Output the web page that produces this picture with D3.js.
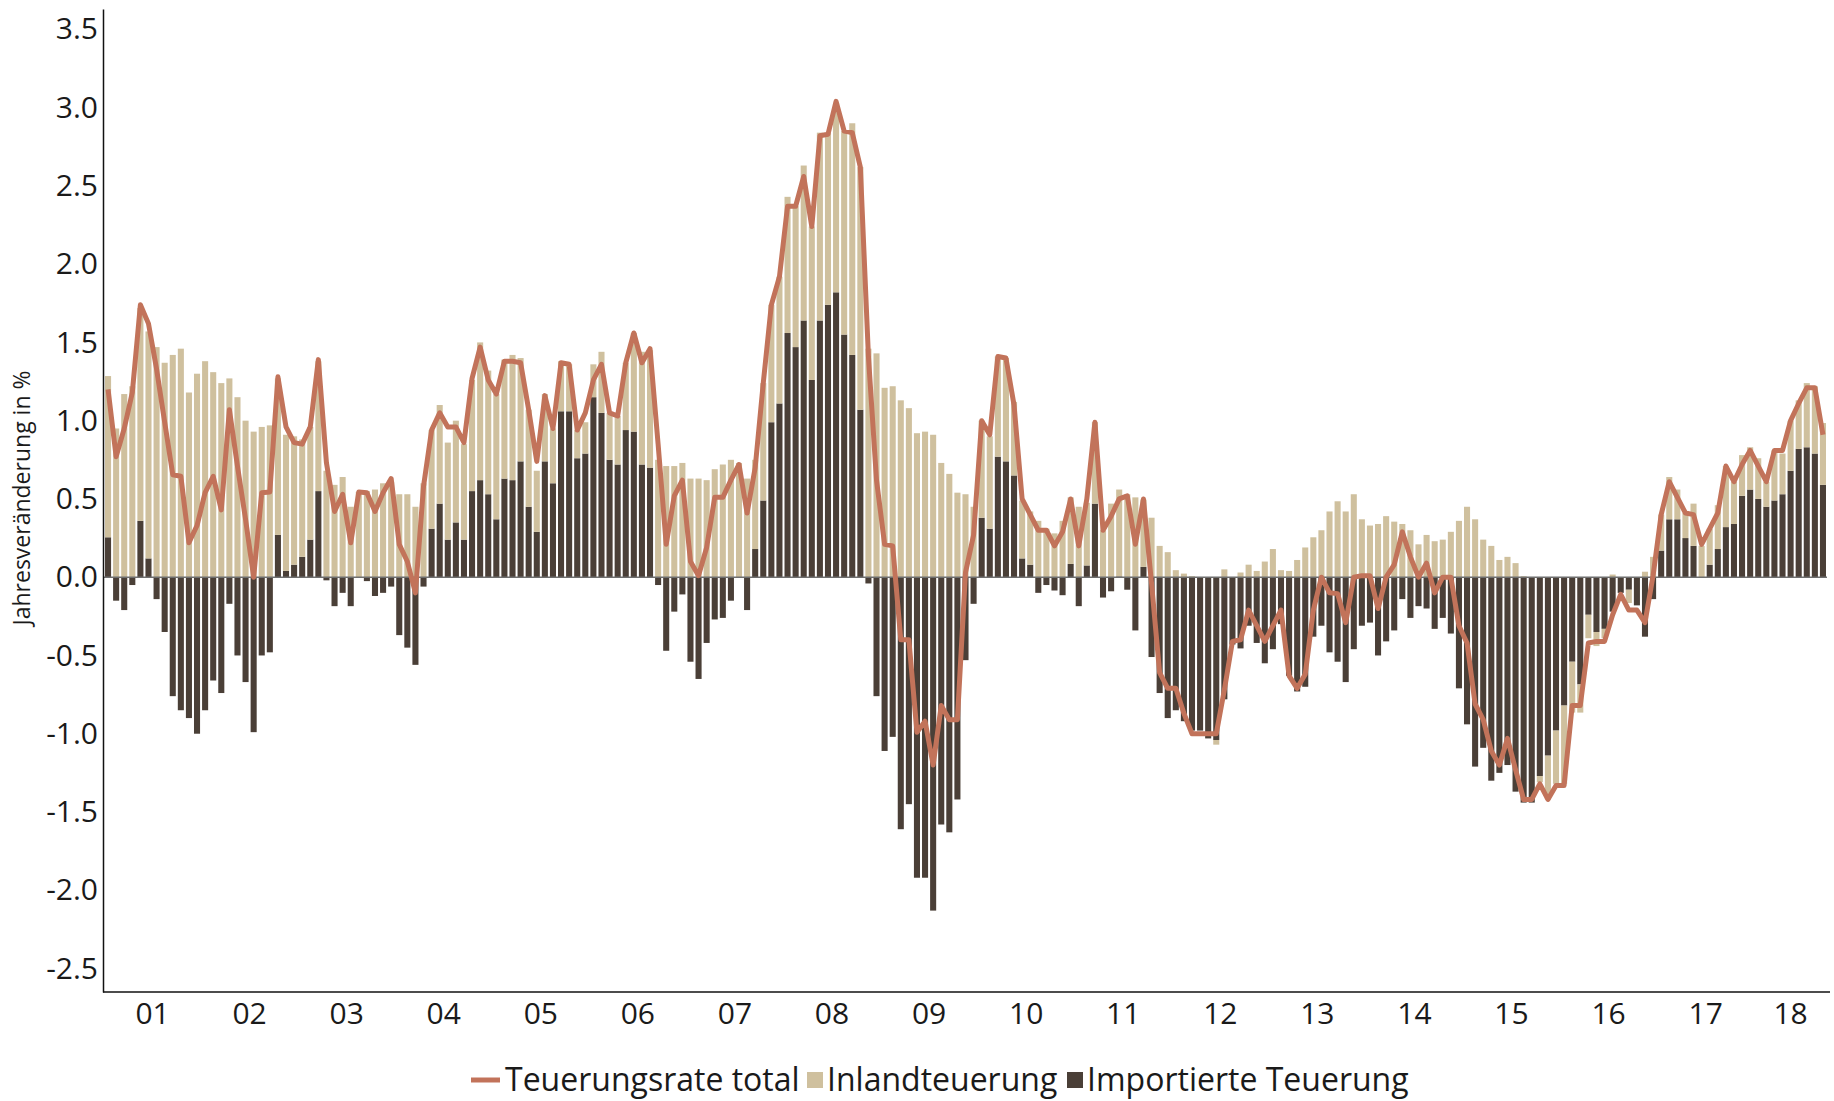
<!DOCTYPE html>
<html><head><meta charset="utf-8">
<script src="https://cdn.jsdelivr.net/npm/d3@7"></script>
<style>
body{margin:0;background:#fff}
svg{display:block}
text{font-family:"Open Sans","Noto Sans",sans-serif;fill:#1a1a1a}
</style>
</head><body>
<svg id="chart" width="1834" height="1101"></svg>
<script>
// ---- data (monthly, Jan 2001 – Sep 2018) ----
const yearLabels = ["01","02","03","04","05","06","07","08","09","10","11","12","13","14","15","16","17","18"];
const seriesNames = ["Teuerungsrate total","Inlandteuerung","Importierte Teuerung"];
const yTicks = [-2.5,-2.0,-1.5,-1.0,-0.5,0.0,0.5,1.0,1.5,2.0,2.5,3.0,3.5];

const total = [
 1.20,0.77,0.95,1.18,1.74,1.62,1.33,0.99,0.655,0.645,0.22,0.33,
 0.54,0.645,0.43,1.07,0.71,0.37,0.00,0.54,0.545,1.28,0.96,0.86,
 0.85,0.96,1.39,0.73,0.42,0.53,0.22,0.545,0.54,0.42,0.54,0.63,
 0.21,0.10,-0.10,0.58,0.94,1.05,0.96,0.96,0.86,1.27,1.47,1.26,
 1.17,1.38,1.38,1.37,1.07,0.74,1.16,0.95,1.37,1.36,0.94,1.05,
 1.26,1.36,1.05,1.03,1.37,1.56,1.37,1.46,0.85,0.21,0.52,0.62,
 0.10,0.01,0.19,0.51,0.51,0.62,0.72,0.41,0.70,1.24,1.74,1.92,
 2.37,2.37,2.56,2.24,2.82,2.83,3.04,2.85,2.84,2.62,1.41,0.62,
 0.21,0.20,-0.40,-0.40,-0.99,-0.92,-1.20,-0.82,-0.91,-0.91,0.03,0.27,
 1.00,0.91,1.41,1.40,1.10,0.50,0.40,0.30,0.30,0.20,0.29,0.50,
 0.20,0.50,0.99,0.30,0.39,0.50,0.52,0.21,0.50,-0.04,-0.61,-0.71,
 -0.71,-0.87,-1.00,-1.00,-1.00,-1.00,-0.72,-0.41,-0.40,-0.21,-0.31,-0.41,
 -0.31,-0.21,-0.63,-0.71,-0.62,-0.21,0.00,-0.10,-0.105,-0.29,0.00,0.01,
 0.01,-0.20,0.00,0.08,0.29,0.13,0.00,0.09,-0.10,0.00,0.00,-0.31,
 -0.42,-0.81,-0.91,-1.11,-1.20,-1.03,-1.23,-1.42,-1.42,-1.32,-1.42,-1.33,
 -1.33,-0.82,-0.82,-0.42,-0.41,-0.41,-0.24,-0.11,-0.21,-0.21,-0.29,0.01,
 0.40,0.61,0.51,0.41,0.40,0.21,0.31,0.41,0.71,0.61,0.72,0.81,
 0.71,0.61,0.81,0.81,1.00,1.11,1.21,1.21,0.91
];

const inland = [
 1.03,0.95,1.17,1.22,1.36,1.45,1.47,1.37,1.42,1.46,1.18,1.30,
 1.38,1.31,1.24,1.27,1.15,1.00,0.93,0.96,0.97,1.00,0.87,0.82,
 0.75,0.72,0.83,0.68,0.59,0.64,0.45,0.545,0.55,0.56,0.60,0.61,
 0.53,0.53,0.45,0.60,0.63,0.63,0.62,0.65,0.61,0.71,0.88,0.79,
 0.80,0.76,0.80,0.66,0.62,0.39,0.43,0.35,0.32,0.30,0.18,0.20,
 0.21,0.39,0.30,0.31,0.43,0.63,0.72,0.75,0.75,0.71,0.71,0.73,
 0.63,0.63,0.62,0.69,0.72,0.75,0.73,0.63,0.57,0.75,0.75,0.81,
 0.87,0.90,0.99,0.98,1.20,1.10,1.21,1.30,1.48,1.55,1.46,1.43,
 1.21,1.22,1.13,1.08,0.92,0.93,0.91,0.73,0.66,0.54,0.53,0.45,
 0.62,0.59,0.64,0.66,0.47,0.37,0.34,0.36,0.31,0.28,0.36,0.425,
 0.45,0.40,0.52,0.30,0.47,0.555,0.53,0.51,0.43,0.38,0.20,0.16,
 0.045,0.023,0.006,0.0,0.0,-0.03,0.05,0.0,0.03,0.08,0.04,0.10,
 0.18,0.045,0.04,0.11,0.19,0.255,0.30,0.42,0.485,0.42,0.53,0.37,
 0.33,0.34,0.39,0.355,0.34,0.30,0.21,0.27,0.23,0.24,0.29,0.36,
 0.45,0.37,0.24,0.20,0.11,0.13,0.09,0.006,0.0,-0.04,-0.28,-0.34,
 -0.50,-0.325,-0.18,-0.15,-0.09,-0.06,0.017,0.0,-0.085,0.0,0.035,0.13,
 0.23,0.27,0.19,0.16,0.27,0.20,0.23,0.28,0.39,0.27,0.26,0.27,
 0.26,0.16,0.32,0.26,0.32,0.31,0.41,0.43,0.395
];

const imported = [
 0.255,-0.15,-0.21,-0.05,0.36,0.12,-0.14,-0.35,-0.76,-0.85,-0.90,-1.00,
 -0.85,-0.66,-0.74,-0.17,-0.50,-0.67,-0.99,-0.50,-0.48,0.27,0.04,0.08,
 0.13,0.24,0.55,-0.02,-0.185,-0.10,-0.185,0.0,-0.025,-0.12,-0.10,-0.06,
 -0.37,-0.45,-0.56,-0.06,0.31,0.47,0.24,0.35,0.24,0.55,0.62,0.53,
 0.37,0.63,0.62,0.74,0.45,0.29,0.74,0.60,1.06,1.06,0.76,0.79,
 1.15,1.05,0.75,0.72,0.94,0.93,0.72,0.70,-0.05,-0.47,-0.22,-0.11,
 -0.54,-0.65,-0.42,-0.27,-0.26,-0.15,0.0,-0.21,0.18,0.49,0.99,1.11,
 1.56,1.47,1.64,1.26,1.64,1.74,1.82,1.55,1.42,1.07,-0.04,-0.76,
 -1.11,-1.02,-1.61,-1.45,-1.92,-1.92,-2.13,-1.58,-1.63,-1.42,-0.53,-0.17,
 0.38,0.31,0.77,0.74,0.65,0.12,0.08,-0.10,-0.05,-0.085,-0.115,0.085,
 -0.185,0.075,0.47,-0.13,-0.09,0.005,-0.08,-0.34,0.066,-0.51,-0.74,-0.90,
 -0.85,-0.92,-0.98,-0.98,-1.03,-1.04,-0.78,-0.43,-0.455,-0.31,-0.42,-0.55,
 -0.46,-0.30,-0.63,-0.73,-0.70,-0.38,-0.31,-0.48,-0.54,-0.67,-0.46,-0.31,
 -0.29,-0.50,-0.41,-0.34,-0.14,-0.26,-0.185,-0.20,-0.33,-0.26,-0.36,-0.71,
 -0.94,-1.21,-1.09,-1.30,-1.25,-1.20,-1.37,-1.44,-1.44,-1.27,-1.14,-0.98,
 -0.82,-0.54,-0.685,-0.24,-0.35,-0.33,-0.22,-0.10,-0.08,-0.18,-0.38,-0.14,
 0.17,0.37,0.37,0.25,0.20,0.0,0.08,0.18,0.32,0.34,0.52,0.56,
 0.50,0.45,0.49,0.53,0.68,0.82,0.83,0.79,0.59
];

// ---- layout ----
const colors = {total:"#c2735a", inland:"#cfc09e", imported:"#4a3f37"};
const plot = {left:104, right:1827, top:9, bottom:992};
const svg = d3.select("#chart");

const months = total.map((_, i) => `${2001 + Math.floor(i / 12)}-${String(i % 12 + 1).padStart(2, "0")}`);
const rows = months.map((m, i) => ({month:m, year:yearLabels[Math.floor(i / 12)], total:total[i], inland:inland[i], imported:imported[i]}));

const x = d3.scaleBand().domain(months).range([plot.left, plot.right]).paddingInner(0.25).paddingOuter(0.125);
const y = d3.scaleLinear().domain([-2.65, 3.63]).range([plot.bottom, plot.top]);

const stack = d3.stack().keys(["imported","inland"]).offset(d3.stackOffsetDiverging);
const stacked = stack(rows);

// bars
svg.append("g").selectAll("g").data(stacked).join("g")
  .attr("fill", d => colors[d.key])
  .selectAll("rect").data(d => d).join("rect")
  .attr("x", d => x(d.data.month))
  .attr("width", x.bandwidth())
  .attr("y", d => y(Math.max(d[0], d[1])))
  .attr("height", d => Math.abs(y(d[0]) - y(d[1])));

// zero line
svg.append("line")
  .attr("x1", plot.left).attr("x2", plot.right)
  .attr("y1", y(0)).attr("y2", y(0))
  .attr("stroke", "#6e6e6e").attr("stroke-width", 1.5);

// total line
const line = d3.line()
  .x(d => x(d.month) + x.bandwidth() / 2)
  .y(d => y(d.total));
svg.append("path").datum(rows)
  .attr("fill", "none")
  .attr("stroke", colors.total)
  .attr("stroke-width", 5)
  .attr("stroke-linejoin", "round")
  .attr("d", line);

// y axis
const yAxis = d3.axisLeft(y).tickValues(yTicks).tickSize(0).tickPadding(5)
  .tickFormat(d => d.toFixed(1));
const gy = svg.append("g").attr("transform", `translate(${plot.left - 1},0)`).call(yAxis);
gy.select(".domain").attr("stroke", "#111").attr("stroke-width", 1.5);
gy.selectAll("text").style("font-size", "30px").attr("fill", "#1a1a1a");

// x axis
const xAxis = d3.axisBottom(x).tickValues([]).tickSizeOuter(0);
const gx = svg.append("g").attr("transform", `translate(0,${plot.bottom})`).call(xAxis);
gx.select(".domain").attr("stroke", "#111").attr("stroke-width", 1.5)
  .attr("d", `M${plot.left - 1},0H${plot.right + 3}`);
const yearGroups = d3.groups(rows, d => d.year);
gx.selectAll("text.yl").data(yearGroups).join("text").attr("class", "yl")
  .attr("x", d => {
    const a = x(d[1][0].month), b = x(d[1][d[1].length - 1].month) + x.bandwidth();
    return (a + b) / 2;
  })
  .attr("y", 32)
  .attr("text-anchor", "middle")
  .style("font-size", "30px")
  .text(d => d[0]);

// y axis title
svg.append("text")
  .attr("transform", `translate(30,498) rotate(-90)`)
  .attr("text-anchor", "middle")
  .style("font-size", "23px")
  .attr("fill", "#333")
  .text("Jahresveränderung in %");

// legend
const lg = svg.append("g").attr("transform", "translate(0,1080)");
lg.append("line").attr("x1", 471).attr("x2", 500).attr("y1", 0).attr("y2", 0)
  .attr("stroke", colors.total).attr("stroke-width", 5);
lg.append("text").attr("x", 505).attr("y", 11).style("font-size", "32px").text(seriesNames[0]);
lg.append("rect").attr("x", 807).attr("y", -8).attr("width", 16).attr("height", 16).attr("fill", colors.inland);
lg.append("text").attr("x", 827).attr("y", 11).style("font-size", "32px").text(seriesNames[1]);
lg.append("rect").attr("x", 1067).attr("y", -8).attr("width", 16).attr("height", 16).attr("fill", colors.imported);
lg.append("text").attr("x", 1087).attr("y", 11).style("font-size", "32px").text(seriesNames[2]);
</script>
</body></html>
